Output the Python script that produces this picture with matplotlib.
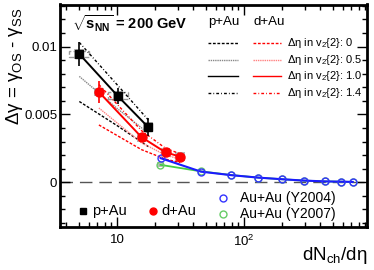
import matplotlib
matplotlib.use("Agg")
import matplotlib.pyplot as plt
from matplotlib.lines import Line2D
from matplotlib.patches import Rectangle
from matplotlib.ticker import FixedLocator, NullFormatter, FuncFormatter

plt.rcParams['font.family'] = ['Liberation Sans', 'DejaVu Sans']
plt.rcParams['mathtext.fontset'] = 'custom'
plt.rcParams['mathtext.rm'] = 'Liberation Sans'
plt.rcParams['mathtext.it'] = 'Liberation Sans:italic'
plt.rcParams['mathtext.bf'] = 'Liberation Sans:bold'

# p+Au data
pau_x = [5.05, 10.1, 17.6]
pau_y = [0.00945, 0.00637, 0.00406]
pau_err = [0.0009, 0.0006, 0.00065]
# p+Au curves for different eta gaps in v2{2}
pau_eta0 = [0.00595, 0.00415, 0.00263]
pau_eta05 = [0.0078, 0.00541, 0.00362]
pau_eta14 = [0.0103, 0.00715, 0.0046]

# d+Au data
dau_x = [7.2, 15.6, 24.1, 31.3]
dau_y = [0.00665, 0.00332, 0.0022, 0.00189]
dau_err = [0.00078, 0.0003, 0.00025, 0.00025]
dau_eta0 = [0.00422, 0.0024, 0.0017, 0.00145]
dau_eta05 = [0.00547, 0.0029, 0.0020, 0.0017]
dau_eta14 = [0.0072, 0.0038, 0.0025, 0.0021]

# Au+Au
auau04_x = [22.1, 45.8, 79.1, 128.9, 199, 296, 434, 577, 718]
auau04_y = [0.00177, 0.00078, 0.00052, 0.00034, 0.00022, 0.00012, 0.00006, 0.00004, 0.00002]
auau07_x = [22.0, 45.8, 79.1, 128.9, 199, 296, 434, 577, 718]
auau07_y = [0.00128, 0.00080, 0.00053, 0.00034, 0.00022, 0.00012, 0.00006, 0.00004, 0.00002]

W, H = 374, 270
fig = plt.figure(figsize=(W / 100, H / 100), dpi=100)
ax = fig.add_axes([60 / W, 1 - 226.7 / H, 307 / W, 222.2 / H])
ax.set_xscale('log')
ax.set_xlim(3.557, 930)
ax.set_ylim(-0.00328, 0.0131)

ax.axhline(0, color='#555555', lw=1.0, dashes=(9, 5), zorder=1)


def sys_boxes(xs, ys, fac, dy, **kw):
    for x, y in zip(xs, ys):
        ax.add_patch(Rectangle((x / fac, y - dy), x * fac - x / fac, 2 * dy, **kw))


# systematic boxes
sys_boxes(pau_x, pau_y, 1.095, 0.00035, facecolor='#a8a8a8', edgecolor='none', alpha=0.8, zorder=2)
sys_boxes(pau_x[:2], pau_y[:2], 1.2, 0.00025, facecolor='none', edgecolor='#999999',
          lw=1.0, ls='--', zorder=2)
sys_boxes(dau_x, dau_y, 1.09, 0.00033, facecolor='#a8a8a8', edgecolor='none', alpha=0.8, zorder=2)
sys_boxes(auau07_x[:1], auau07_y[:1], 1.07, 0.00018, facecolor='#a8a8a8', edgecolor='none',
          alpha=0.8, zorder=2)

# p+Au curves
ax.plot(pau_x, pau_eta0, color='black', lw=1.0, ls=(0, (2, 1.2)), zorder=3)
ax.plot(pau_x, pau_eta05, color='#888888', lw=1.0, ls=(0, (1, 0.6)), zorder=3)
ax.plot(pau_x, pau_eta14, color='black', lw=1.0, ls=(0, (2, 1.5, 0.6, 1.5)), zorder=3)
# d+Au curves
ax.plot(dau_x, dau_eta0, color='red', lw=1.0, ls=(0, (2, 1.2)), zorder=3)
ax.plot(dau_x, dau_eta05, color='#ff8080', lw=1.0, ls=(0, (1, 0.6)), zorder=3)
ax.plot(dau_x, dau_eta14, color='red', lw=1.0, ls=(0, (2, 1.5, 0.6, 1.5)), zorder=3)

# Au+Au
ax.plot(auau07_x, auau07_y, color='#44cc44', lw=1.3, marker='o', ms=5, mfc='none',
        mec='#66cc66', mew=1.0, zorder=4)
ax.plot(auau04_x, auau04_y, color='#1a1aff', lw=1.5, marker='o', ms=5, mfc='none',
        mec='#3333ff', mew=1.0, zorder=5)

# data points
ax.errorbar(pau_x, pau_y, yerr=pau_err, color='black', lw=1.4, marker='s', ms=6,
            elinewidth=1.2, capsize=0, zorder=6)
ax.errorbar(dau_x, dau_y, yerr=dau_err, color='red', lw=1.4, marker='o', ms=6.5,
            elinewidth=1.2, capsize=0, zorder=6)

# axes styling (ROOT-like)
for s in ax.spines.values():
    s.set_linewidth(2.0)
ax.xaxis.set_major_locator(FixedLocator([10, 100]))
ax.xaxis.set_minor_locator(FixedLocator([m * 10 ** e for e in (0, 1, 2) for m in range(2, 10)]))
ax.xaxis.set_major_formatter(FuncFormatter(lambda v, p: {10: '10', 100: '10$^{2}$'}.get(v, '')))
ax.xaxis.set_minor_formatter(NullFormatter())
ax.yaxis.set_major_locator(FixedLocator([0, 0.005, 0.01]))
ax.yaxis.set_minor_locator(FixedLocator([i * 0.001 for i in range(-3, 14)]))
ax.yaxis.set_major_formatter(FuncFormatter(lambda v, p: {0: '0', 0.005: '0.005', 0.01: '0.01'}.get(round(v, 4), '')))
ax.tick_params(which='both', direction='in', top=True, right=True, labelsize=9.5, width=1.0)
ax.tick_params(which='major', length=7)
ax.tick_params(which='minor', length=3.5)
ax.tick_params(axis='x', pad=5)
ax.tick_params(axis='y', pad=2)

# labels
fig.text(15 / W, 1 - 8 / H, 'Δγ = γ$_{\\rm OS}$ - γ$_{\\rm SS}$', rotation=90,
         ha='center', va='top', fontsize=13.5)
fig.text(367 / W, 1 - 255 / H, 'dN$_{\\rm ch}$/dη', ha='right', va='center', fontsize=13.5)
fig.text(72 / W, 1 - 24 / H, '$\\sqrt{\\mathbf{s}_{\\mathbf{NN}}}$ = 200 GeV', ha='left',
         va='center', fontsize=10.5, fontweight='bold')


def fx(px):
    return px / W


def fy(py):
    return 1 - py / H


# top legend
fig.text(fx(208), fy(22), 'p+Au', ha='left', va='center', fontsize=9.5)
fig.text(fx(253), fy(22), 'd+Au', ha='left', va='center', fontsize=9.5)
styles = [((0, (2, 1.2)), 'black', 'red', '0'),
          ((0, (1, 0.6)), '#888888', '#ff8080', '0.5'),
          ('-', 'black', 'red', '1.0'),
          ((0, (2, 1.5, 0.6, 1.5)), 'black', 'red', '1.4')]
for i, (ls, c1, c2, lab) in enumerate(styles):
    yy = fy(43 + i * 16.7)
    fig.add_artist(Line2D([fx(208), fx(238)], [yy, yy], color=c1, lw=1.0, ls=ls))
    fig.add_artist(Line2D([fx(253), fx(281)], [yy, yy], color=c2, lw=1.0, ls=ls))
    fig.text(fx(287), yy, 'Δη in v$_{2}${2}: ' + lab, ha='left', va='center', fontsize=8)

# bottom legend
fig.add_artist(Line2D([fx(83.3)], [fy(211)], marker='s', color='black', ms=4.5, ls='none'))
fig.text(fx(92), fy(211), 'p+Au', ha='left', va='center', fontsize=10.5)
fig.add_artist(Line2D([fx(152.7)], [fy(211)], marker='o', color='red', ms=5, ls='none'))
fig.text(fx(161), fy(211), 'd+Au', ha='left', va='center', fontsize=10.5)
fig.add_artist(Line2D([fx(223.3)], [fy(197.7)], marker='o', color='#3333ff', mfc='none',
                      ms=5, mew=1.0, ls='none'))
fig.text(fx(240), fy(197.7), 'Au+Au (Y2004)', ha='left', va='center', fontsize=10)
fig.add_artist(Line2D([fx(223.3)], [fy(214.3)], marker='o', color='#66cc66', mfc='none',
                      ms=5, mew=1.0, ls='none'))
fig.text(fx(240), fy(214.3), 'Au+Au (Y2007)', ha='left', va='center', fontsize=10)

fig.savefig('out.png', dpi=100)
